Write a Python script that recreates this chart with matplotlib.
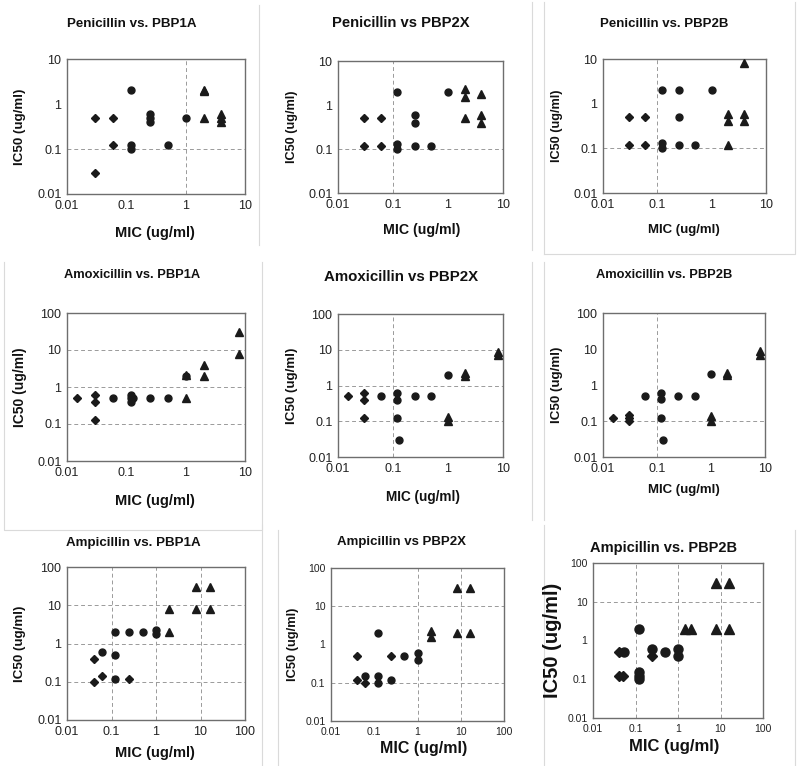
import matplotlib
matplotlib.use("Agg")
import matplotlib.pyplot as plt
from matplotlib.lines import Line2D

plt.rcParams['font.family'] = ['Liberation Sans', 'DejaVu Sans']

# ---- data: (MIC, IC50) pairs per panel, by marker group ----
titles = ["Penicillin vs. PBP1A", "Penicillin vs PBP2X", "Penicillin vs. PBP2B",
          "Amoxicillin vs. PBP1A", "Amoxicillin vs PBP2X", "Amoxicillin vs. PBP2B",
          "Ampicillin vs. PBP1A", "Ampicillin vs PBP2X", "Ampicillin vs. PBP2B"]

pen_1a_dia = [(0.03, 0.5), (0.06, 0.5), (0.06, 0.12), (0.03, 0.03)]
pen_1a_cir = [(0.12, 2), (0.12, 0.12), (0.12, 0.1), (0.25, 0.6), (0.25, 0.5),
              (0.25, 0.4), (0.5, 0.12), (1, 0.5)]
pen_1a_tri = [(2, 2.1), (2, 1.9), (2, 0.5), (4, 0.6), (4, 0.5), (4, 0.4)]

pen_2x_dia = [(0.03, 0.5), (0.06, 0.5), (0.03, 0.12), (0.06, 0.12)]
pen_2x_cir = [(0.12, 2), (0.12, 0.13), (0.12, 0.1), (0.25, 0.6), (0.25, 0.4),
              (0.25, 0.12), (0.5, 0.12), (1, 2)]
pen_2x_tri = [(2, 2.3), (2, 1.5), (2, 0.5), (4, 1.8), (4, 0.6), (4, 0.4)]

pen_2b_dia = [(0.03, 0.5), (0.06, 0.5), (0.03, 0.12), (0.06, 0.12)]
pen_2b_cir = [(0.12, 2), (0.25, 2), (1, 2), (0.25, 0.5), (0.12, 0.13),
              (0.12, 0.1), (0.25, 0.12), (0.5, 0.12)]
pen_2b_tri = [(4, 8), (2, 0.6), (2, 0.4), (4, 0.6), (4, 0.4), (2, 0.12)]

amx_1a_dia = [(0.015, 0.5), (0.03, 0.6), (0.03, 0.4), (0.03, 0.13)]
amx_1a_cir = [(0.06, 0.5), (0.12, 0.6), (0.12, 0.5), (0.12, 0.4), (0.13, 0.5),
              (0.25, 0.5), (0.5, 0.5), (1, 2)]
amx_1a_tri = [(1, 2.1), (1, 0.5), (2, 4), (2, 2), (8, 30), (8, 8)]

amx_2x_dia = [(0.015, 0.5), (0.03, 0.6), (0.03, 0.4), (0.03, 0.12)]
amx_2x_cir = [(0.06, 0.5), (0.12, 0.6), (0.12, 0.4), (0.12, 0.12), (0.13, 0.03),
              (0.25, 0.5), (0.5, 0.5), (1, 2)]
amx_2x_tri = [(1, 0.13), (1, 0.1), (2, 2.2), (2, 1.9), (8, 8.5), (8, 7)]

amx_2b_dia = [(0.015, 0.12), (0.03, 0.15), (0.03, 0.12), (0.03, 0.1)]
amx_2b_cir = [(0.06, 0.5), (0.12, 0.6), (0.12, 0.4), (0.12, 0.12), (0.13, 0.03),
              (0.25, 0.5), (0.5, 0.5), (1, 2)]
amx_2b_tri = [(1, 0.14), (1, 0.1), (2, 2.2), (2, 1.9), (8, 9), (8, 7)]

amp_1a_dia = [(0.04, 0.4), (0.04, 0.1), (0.06, 0.14), (0.25, 0.12)]
amp_1a_cir = [(0.06, 0.6), (0.12, 2), (0.12, 0.5), (0.12, 0.12), (0.25, 2),
              (0.5, 2), (1, 2.2), (1, 1.8)]
amp_1a_tri = [(2, 8), (2, 2), (8, 30), (8, 8), (16, 30), (16, 8)]

amp_2x_dia = [(0.04, 0.5), (0.04, 0.12), (0.06, 0.1), (0.25, 0.5)]
amp_2x_cir = [(0.06, 0.15), (0.12, 2), (0.12, 0.15), (0.12, 0.1), (0.25, 0.12),
              (0.5, 0.5), (1, 0.6), (1, 0.4)]
amp_2x_tri = [(2, 2.2), (2, 1.6), (8, 30), (8, 2), (16, 30), (16, 2)]

amp_2b_dia = [(0.04, 0.5), (0.04, 0.12), (0.05, 0.12), (0.25, 0.4)]
amp_2b_cir = [(0.055, 0.5), (0.12, 2), (0.12, 0.15), (0.12, 0.12), (0.12, 0.1),
              (0.25, 0.6), (0.5, 0.5), (1, 0.6), (1, 0.4)]
amp_2b_tri = [(1.5, 2), (2, 2), (8, 30), (8, 2), (16, 30), (16, 2)]

groups = [(pen_1a_dia, pen_1a_cir, pen_1a_tri), (pen_2x_dia, pen_2x_cir, pen_2x_tri),
          (pen_2b_dia, pen_2b_cir, pen_2b_tri), (amx_1a_dia, amx_1a_cir, amx_1a_tri),
          (amx_2x_dia, amx_2x_cir, amx_2x_tri), (amx_2b_dia, amx_2b_cir, amx_2b_tri),
          (amp_1a_dia, amp_1a_cir, amp_1a_tri), (amp_2x_dia, amp_2x_cir, amp_2x_tri),
          (amp_2b_dia, amp_2b_cir, amp_2b_tri)]

# axis ranges and which dashed gridlines each panel shows
x_max = [10] * 6 + [100] * 3
y_max = [10] * 3 + [100] * 6
grid_x = [[1], [0.1], [0.1], [], [0.1], [0.1], [0.1, 1, 10], [1, 10], [0.1, 1, 10]]
grid_y = [[0.1], [0.1], [0.1], [0.1, 1, 10], [0.1, 1, 10], [0.1], [0.1, 1, 10], [0.1, 10], [10]]

# ---- layout (pixels in an 800x766 canvas) ----
W, H = 800, 766
boxes = [(67, 59, 245, 194), (338, 61, 503, 193), (603, 59, 766, 193),
         (67, 313, 245, 461), (338, 314, 503, 457), (603, 313, 765, 457),
         (67, 567, 245, 720), (331, 568, 504, 721), (593, 563, 763, 718)]
title_pos = [(132, 24), (401, 23), (664, 24), (132, 275), (401, 277), (664, 275),
             (133, 543), (402, 542), (663, 548)]
xlab_pos = [(155, 233), (422, 230), (684, 230), (155, 501), (423, 497), (684, 490),
            (155, 753), (424, 748), (674, 747)]
ylab_x = [20, 292, 557, 20, 292, 557, 20, 293, 552]
title_fs = [9.6, 10.6, 9.5, 9.3, 10.8, 9.3, 9.6, 9.5, 10.5]
xlab_fs = [10.5, 10.2, 9.5, 10.5, 9.8, 9.5, 10.5, 11.5, 12]
ylab_fs = [9.6, 9.2, 9.2, 10, 9.6, 9.6, 9.6, 9.3, 14.5]
tick_fs = [9, 9, 9, 9, 9, 9, 9, 7.5, 7.5]
msize = [5] * 8 + [6.5]

fig = plt.figure(figsize=(W / 100, H / 100), dpi=100)


def fx(px):
    return px / W


def fy(py):
    return 1 - py / H


# faint panel frames
frame_color = '#dadada'
for xs, ys in [((259, 259), (5, 245)), ((532, 532), (2, 250)),
               ((544, 795, 795), (254, 254, 2)), ((544, 544), (2, 254)),
               ((4, 4, 262, 262), (262, 530, 530, 262)), ((532, 532), (262, 520)),
               ((544, 544), (262, 520)), ((262, 262), (525, 766)),
               ((278, 278), (530, 766)), ((544, 544), (525, 766)),
               ((795, 795), (530, 766))]:
    fig.add_artist(Line2D([fx(v) for v in xs], [fy(v) for v in ys],
                          color=frame_color, lw=0.8))

for i in range(9):
    l, t, r, b = boxes[i]
    ax = fig.add_axes([fx(l), fy(b), (r - l) / W, (b - t) / H])
    ax.set_xscale('log')
    ax.set_yscale('log')
    ax.set_xlim(0.01, x_max[i])
    ax.set_ylim(0.01, y_max[i])

    for gx in grid_x[i]:
        ax.axvline(gx, color='#9a9a9a', lw=0.7, ls=(0, (4, 3)), zorder=1)
    for gy in grid_y[i]:
        ax.axhline(gy, color='#9a9a9a', lw=0.7, ls=(0, (4, 3)), zorder=1)

    dia, cir, tri = groups[i]
    for pts, mk, scale in [(dia, 'D', 0.85), (cir, 'o', 1.0), (tri, '^', 1.05)]:
        xs = [p[0] for p in pts]
        ys = [p[1] for p in pts]
        ax.plot(xs, ys, ls='none', marker=mk, ms=msize[i] * scale,
                color='#1a1a1a', zorder=3)

    xt = [0.01, 0.1, 1, 10] + ([100] if x_max[i] == 100 else [])
    yt = [0.01, 0.1, 1, 10] + ([100] if y_max[i] == 100 else [])
    ax.set_xticks(xt)
    ax.set_xticklabels([f"{v:g}" for v in xt])
    ax.set_yticks(yt)
    ax.set_yticklabels([f"{v:g}" for v in yt])
    ax.minorticks_off()
    ax.tick_params(length=0, labelsize=tick_fs[i], pad=4, colors='#222222')
    for s in ax.spines.values():
        s.set_color('#6e6e6e')
        s.set_linewidth(1.0)

    tx, ty = title_pos[i]
    fig.text(fx(tx), fy(ty), titles[i], ha='center', va='center',
             fontsize=title_fs[i], fontweight='bold', color='#111111')
    lx, ly = xlab_pos[i]
    fig.text(fx(lx), fy(ly), "MIC (ug/ml)", ha='center', va='center',
             fontsize=xlab_fs[i], fontweight='bold', color='#111111')
    fig.text(fx(ylab_x[i]), fy((t + b) / 2), "IC50 (ug/ml)", ha='center',
             va='center', rotation=90, fontsize=ylab_fs[i], fontweight='bold',
             color='#111111')

fig.savefig("out.png", dpi=100, facecolor='white')
